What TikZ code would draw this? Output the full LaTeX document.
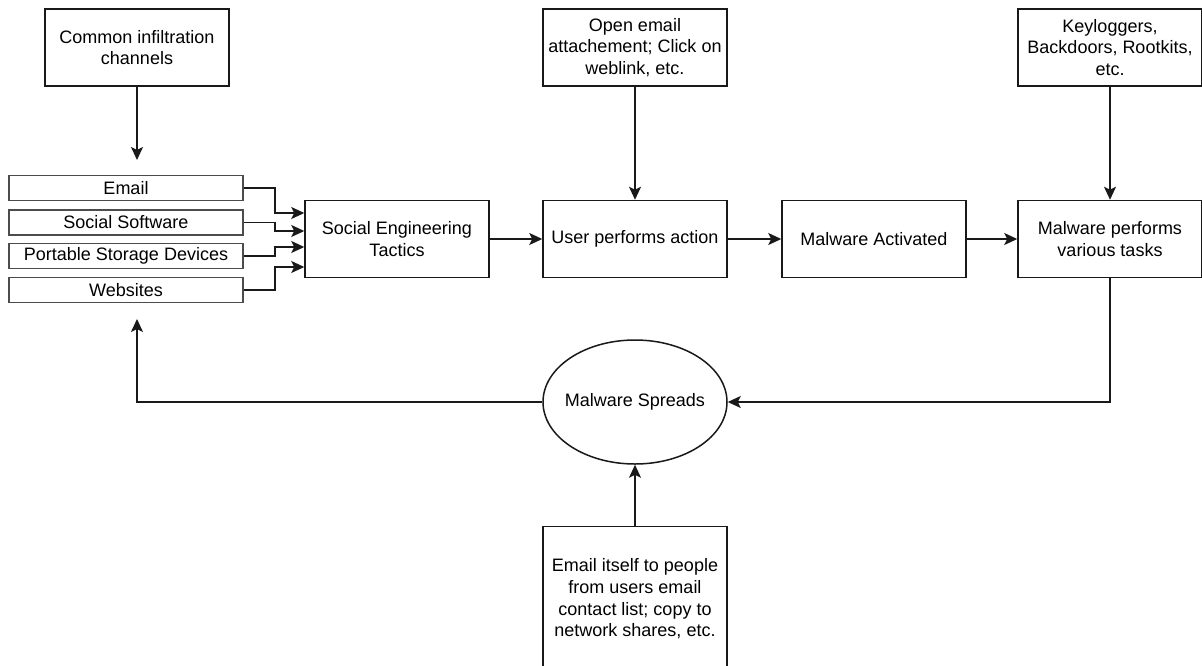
\documentclass[tikz,border=0pt]{standalone}
\usepackage{fontspec}
\setmainfont{Liberation Sans}
\usetikzlibrary{arrows.meta,shapes.geometric,calc}
\begin{document}
\begin{tikzpicture}[x=1pt,y=-1pt,
  line width=1.5pt,
  every node/.style={font=\fontsize{18}{21.6}\selectfont, align=center, inner sep=0pt},
  box/.style={draw=black!90, minimum width=184pt, minimum height=77pt},
  chan/.style={draw=black!70, minimum width=234pt, minimum height=25pt},
  arr/.style={draw=black!90, -{Stealth[length=13pt,width=12pt,inset=3pt]}}
]
\clip (0,0) rectangle (1202,665);
\fill[white] (0,0) rectangle (1202,665);

% top row of annotation boxes
\node[box] (common)  at (137,47.5)   {Common infiltration\\channels};
\node[box] (openmail) at (635,47.5)  {Open email\\attachement; Click on\\weblink, etc.};
\node[box] (keylog)  at (1110,47.5)  {Keyloggers,\\Backdoors, Rootkits,\\etc.};

% infiltration channels
\node[chan] (email)    at (126,188) {Email};
\node[chan] (social)   at (126,222.5)   {Social Software};
\node[chan] (portable) at (126,256) {Portable Storage Devices};
\node[chan] (websites) at (126,290) {Websites};

% main chain
\node[box] (set)       at (397,239)  {Social Engineering\\Tactics};
\node[box] (user)      at (635,239)  {User performs action};
\node[box] (activated) at (874,239)  {Malware Activated};
\node[box] (tasks)     at (1110,239) {Malware performs\\various tasks};

% spreading stage
\node[draw=black!90, ellipse, inner xsep=-30pt, minimum width=184pt, minimum height=124pt] (spreads) at (635,402) {Malware Spreads};
\node[draw=black!90, minimum width=184pt, minimum height=145pt] (emailself) at (635,599)
  {Email itself to people\\from users email\\contact list; copy to\\network shares, etc.};

\coordinate (chantop) at (137,160);
\coordinate (chanbot) at (137,319);

% connectors
\draw[arr] (common.south) -- (chantop);
\draw[arr] (email.east)    -- ++(31,0) |- ([yshift=26pt]set.west);
\draw[arr] (social.east)   -- ++(31,0) |- ([yshift=8pt]set.west);
\draw[arr] (portable.east) -- ++(31,0) |- ([yshift=-8pt]set.west);
\draw[arr] (websites.east) -- ++(31,0) |- ([yshift=-28pt]set.west);

\draw[arr] (set) -- (user);
\draw[arr] (user) -- (activated);
\draw[arr] (activated) -- (tasks);
\draw[arr] (openmail) -- (user);
\draw[arr] (keylog) -- (tasks);

\draw[arr] (tasks.south) |- (spreads.east);
\draw[arr] (spreads.west) -| (chanbot);
\draw[arr] (emailself.north) -- (spreads.south);
\end{tikzpicture}
\end{document}
